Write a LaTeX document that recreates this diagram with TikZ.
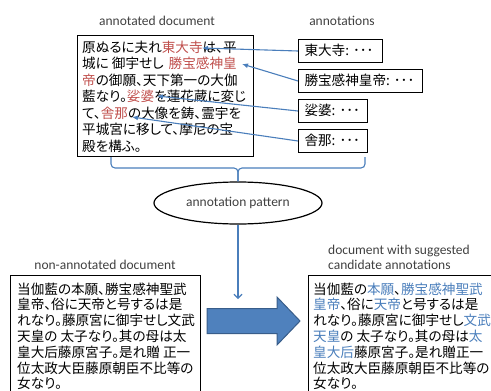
\documentclass[tikz,border=0pt]{standalone}
\usepackage{fontspec}
\setmainfont{Carlito}
\newfontfamily\jp[RawFeature=+palt]{Noto Sans CJK JP}
\usetikzlibrary{arrows.meta,shapes.geometric}
\definecolor{annred}{HTML}{C0504D}
\definecolor{annblue}{HTML}{4A7EBB}
\definecolor{arrowfill}{HTML}{4F81BD}
\definecolor{arrowedge}{HTML}{385D8A}
\definecolor{labelgray}{HTML}{404040}
\newcommand{\redw}[1]{\textcolor{annred}{#1}}
\newcommand{\bluew}[1]{\textcolor{annblue}{#1}}
\newcommand{\annt}[2]{\makebox[#1pt][l]{#2}}
\begin{document}
\begin{tikzpicture}[x=1pt,y=-1pt,
  docbox/.style={draw=black, line width=1pt, anchor=north west, inner sep=0},
  jptext/.style={font=\jp\fontsize{13.6}{15}\selectfont, inner sep=0, anchor=base west},
  lbl/.style={font=\fontsize{13.5}{15}\selectfont, text=labelgray, inner sep=0},
  ann/.style={draw=black, line width=1pt, anchor=north west, minimum height=23,
    inner xsep=6, inner ysep=0, text height=11, text depth=2,
    font=\jp\fontsize{13.6}{15}\selectfont},
  conn/.style={draw=annblue, line width=1.1pt, -{Latex[length=6pt,width=5pt]}},
  connopen/.style={draw=annblue, line width=1.1pt, -{Straight Barb[length=4pt,width=8pt]}},
  brace/.style={draw=annblue, line width=1.1pt, rounded corners=4pt},
]
\useasboundingbox (0,0) rectangle (491,391);
\clip (0,0) rectangle (491,391);

% labels
\node[lbl, anchor=base] (l1) at (157,25.5) {annotated document};
\node[lbl, anchor=base] (l2) at (342,25.5) {annotations};
\node[lbl, anchor=base] (l3) at (105,269.5) {non-annotated document};
\node[lbl, anchor=base west] (l4a) at (328,254.5) {document with suggested};
\node[lbl, anchor=base west] (l4b) at (328,269.5) {candidate annotations};

% annotated document
\node[docbox, minimum width=176, minimum height=121] (adoc) at (77,35) {};
\foreach \txt [count=\i from 0] in {
  {原ぬるに夫れ\redw{東大寺}は、平},
  {城に 御宇せし\hspace{5pt}\redw{勝宝感神皇}},
  {\redw{帝}の御願、天下第一の大伽},
  {藍なり。\redw{娑婆}を蓮花蔵に変じ},
  {て、\redw{舎那}の大像を鋳、霊宇を},
  {平城宮に移して、摩尼の宝},
  {殿を構ふ。}}
  \node[jptext] (ta\i) at (82,52+16.5*\i) {\txt};

% annotations
\node[ann] (a1) at (298,39) {\annt{72}{東大寺: ･･･}};
\node[ann] (a2) at (298,69) {\annt{112}{勝宝感神皇帝: ･･･}};
\node[ann] (a3) at (298,99) {\annt{57}{娑婆: ･･･}};
\node[ann] (a4) at (298,129) {\annt{57}{舎那: ･･･}};

\coordinate (w1) at (202,48);
\coordinate (w2) at (242,64);
\coordinate (w3) at (157,96);
\coordinate (w4) at (132,117);
\draw[conn] (a1.west) -- (w1);
\draw[conn] (a2.west) -- (w2);
\draw[conn] (a3.west) -- (w3);
\draw[conn] (a4.west) -- (w4);

% pattern
\node[ellipse, draw=black, line width=1.2pt, minimum width=168, minimum height=42,
  inner sep=0, text=labelgray, font=\fontsize{13.5}{15}\selectfont] (pat) at (238,203) {annotation pattern};
\draw[brace] (111,157) -- (111,168) -- (238,168) -- (pat.north);
\draw[brace] (365,157) -- (365,168) -- (238,168) -- (pat.north);
\coordinate (dn) at (238,299);
\draw[connopen] (pat.south) -- (dn);

% non-annotated document
\node[docbox, minimum width=190, minimum height=140] (ndoc) at (10,275) {};
\foreach \txt [count=\i from 0] in {
  {当伽藍の本願、勝宝感神聖武},
  {皇帝、俗に天帝と号するは是},
  {れなり。藤原宮に御宇せし文武},
  {天皇の 太子なり。其の母は太},
  {皇大后藤原宮子。是れ贈 正一},
  {位太政大臣藤原朝臣不比等の},
  {女なり。}}
  \node[jptext] (tn\i) at (17,294+15.8*\i) {\txt};

% big arrow
\draw[fill=arrowfill, draw=arrowedge, line width=1pt]
  (207,308.5) -- (277,308.5) -- (277,297) -- (300,321) -- (277,345) -- (277,333.5) -- (207,333.5) -- cycle;

% suggested document
\node[docbox, minimum width=200, minimum height=140] (sdoc) at (308,275) {};
\foreach \txt [count=\i from 0] in {
  {当伽藍の\bluew{本願}、\bluew{勝宝感神聖武}},
  {\bluew{皇帝}、俗に\bluew{天帝}と号するは是},
  {れなり。藤原宮に御宇せし\bluew{文武}},
  {\bluew{天皇}の 太子なり。其の母は\bluew{太}},
  {\bluew{皇大后}藤原宮子。是れ贈正一},
  {位太政大臣藤原朝臣不比等の},
  {女なり。}}
  \node[jptext] (ts\i) at (313,294+15.8*\i) {\txt};
\end{tikzpicture}
\end{document}
